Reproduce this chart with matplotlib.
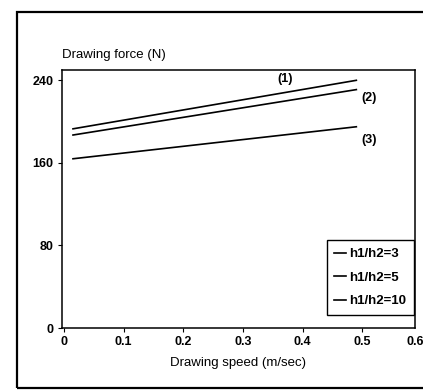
import matplotlib
matplotlib.use('Agg')
import matplotlib.pyplot as plt
from matplotlib.patches import Rectangle

plt.rcParams['font.family'] = ['Liberation Sans', 'DejaVu Sans']

# drawing speed (m/sec) at the two ends of each line
speed = [0.015, 0.49]
# drawing force (N)
force_3 = [193, 240]    # h1/h2=3, curve (1)
force_5 = [187, 231]    # h1/h2=5, curve (2)
force_10 = [164, 195]   # h1/h2=10, curve (3)

labels = ['h1/h2=3', 'h1/h2=5', 'h1/h2=10']
curve_tags = ['(1)', '(2)', '(3)']

xticks = [0, 0.1, 0.2, 0.3, 0.4, 0.5, 0.6]
xticklabels = ['0', '0.1', '0.2', '0.3', '0.4', '0.5', '0.6']
yticks = [0, 80, 160, 240]

fig = plt.figure(figsize=(4.23, 3.91), dpi=100)
ax = fig.add_axes([0.1466, 0.161, 0.834, 0.66])

for f, lab in zip([force_3, force_5, force_10], labels):
    ax.plot(speed, f, color='black', lw=1.2, label=lab)

# curve numbers next to the line ends
ax.text(0.37, 241, curve_tags[0], fontsize=9, fontweight='bold', ha='center', va='center')
ax.text(0.498, 223, curve_tags[1], fontsize=9, fontweight='bold', ha='left', va='center')
ax.text(0.498, 182, curve_tags[2], fontsize=9, fontweight='bold', ha='left', va='center')

ax.set_xticks(xticks)
ax.set_xticklabels(xticklabels)
ax.set_yticks(yticks)
ax.set_xlim(-0.0034, 0.588)
ax.set_ylim(0, 250)
ax.tick_params(labelsize=9, length=3, width=0.8, pad=3)
for lbl in ax.get_xticklabels() + ax.get_yticklabels():
    lbl.set_fontweight('bold')
# last tick label sits just past the axes edge, pushed in to stay on the page
ax.annotate(xticklabels[-1], xy=(xticks[-1], 0), xycoords=('data', 'axes fraction'),
            xytext=(-5, -6), textcoords='offset points', ha='center', va='top',
            fontsize=9, fontweight='bold', annotation_clip=False)
for sp in ax.spines.values():
    sp.set_linewidth(1.1)

ax.set_xlabel('Drawing speed (m/sec)', fontsize=9.5, labelpad=6)
fig.text(0.147, 0.845, 'Drawing force (N)', fontsize=9.5, ha='left', va='bottom')

leg = ax.legend(loc='lower right', bbox_to_anchor=(1.005, 0.04), fontsize=9.5,
                handlelength=0.9, handletextpad=0.2, borderpad=0.6,
                labelspacing=0.85, fancybox=False, framealpha=1, borderaxespad=0.2)
leg.get_frame().set_edgecolor('black')
leg.get_frame().set_linewidth(1.0)
for t in leg.get_texts():
    t.set_fontweight('bold')

# outer frame of the scanned page
fig.patches.append(Rectangle((0.04, 0.008), 1.0, 0.962, transform=fig.transFigure,
                             fill=False, edgecolor='black', lw=1.6))

fig.savefig('out.png', dpi=100)
